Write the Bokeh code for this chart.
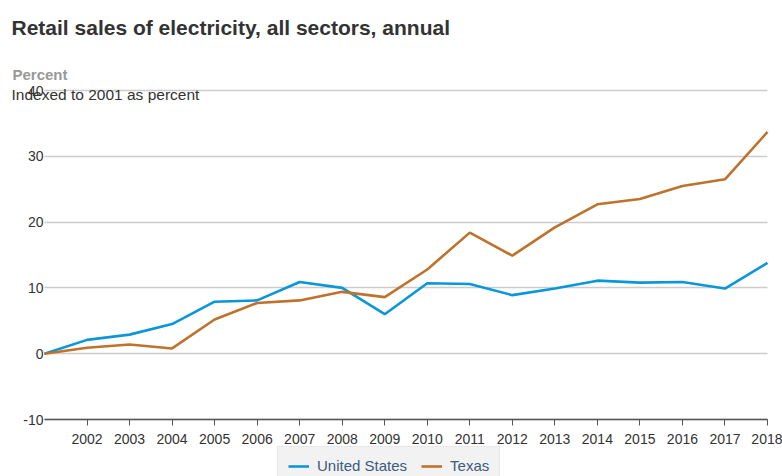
from bokeh.plotting import figure
from bokeh.models import (Range1d, FixedTicker, Label, Legend, LegendItem,
                          ColumnDataSource, PrintfTickFormatter)
from bokeh.embed import file_html
from bokeh.resources import INLINE

# ---- data ----
years = list(range(2001, 2019))
us_values = [0, 2.1, 2.9, 4.5, 7.9, 8.1, 10.9, 10.0, 6.0, 10.7, 10.6, 8.9, 9.9, 11.1, 10.8, 10.9, 9.9, 13.8]
texas_values = [0, 0.9, 1.4, 0.8, 5.2, 7.7, 8.1, 9.4, 8.6, 12.8, 18.4, 14.9, 19.2, 22.7, 23.5, 25.5, 26.5, 33.7]
x_ticks = list(range(2002, 2019))
y_ticks = [-10, 0, 10, 20, 30, 40]
series_names = ["United States", "Texas"]

title_text = "Retail sales of electricity, all sectors, annual"
unit_text = "Percent"
sub_text = "Indexed to 2001 as percent"

FONT = "Liberation Sans"
US_COLOR = "#0a97d9"
TX_COLOR = "#bf722c"

# ---- layout geometry (pixels) ----
W, H = 782, 476
PLOT_L, PLOT_R = 44, 767      # x of first / last year
PLOT_T, PLOT_B = 90, 419      # y of 40 / -10
x0, x1 = years[0], years[-1]
y0, y1 = y_ticks[0], y_ticks[-1]
sx = (PLOT_R - PLOT_L) / (x1 - x0)
sy = (PLOT_B - PLOT_T) / (y1 - y0)
x_range = Range1d(x0 - PLOT_L / sx, x1 + (W - PLOT_R) / sx)
y_range = Range1d(y0 - (H - PLOT_B) / sy, y1 + PLOT_T / sy)

src = ColumnDataSource(dict(year=years, us=us_values, tx=texas_values))

p = figure(width=W, height=H, output_backend="svg", toolbar_location=None,
           x_range=x_range, y_range=y_range,
           min_border_left=0, min_border_right=0, min_border_top=0,
           min_border_bottom=0)
p.outline_line_color = None
p.background_fill_color = "white"
p.border_fill_color = "white"

# grid
p.xgrid.grid_line_color = None
p.ygrid.ticker = FixedTicker(ticks=y_ticks)
p.ygrid.grid_line_color = "#cccccc"
p.ygrid.grid_line_width = 1.5
p.ygrid.bounds = (y0, y1)
p.ygrid.cross_bounds = (x0, x1)

r_us = p.line("year", "us", source=src, line_color=US_COLOR, line_width=2.6)
r_tx = p.line("year", "tx", source=src, line_color=TX_COLOR, line_width=2.6)

# axes (fixed inside the frame)
xa = p.xaxis[0]
xa.fixed_location = y0
xa.bounds = (x0, x1)
xa.ticker = FixedTicker(ticks=x_ticks)
xa.axis_line_color = "#555555"
xa.axis_line_width = 1.3
xa.major_tick_line_color = "#555555"
xa.major_tick_out = 6
xa.major_tick_in = 0
xa.minor_tick_line_color = None
xa.major_label_text_font = FONT
xa.major_label_text_font_size = "14px"
xa.major_label_text_color = "#333333"
xa.major_label_standoff = 8

ya = p.yaxis[0]
ya.fixed_location = x0
ya.ticker = FixedTicker(ticks=y_ticks)
ya.formatter = PrintfTickFormatter(format="%d")
ya.axis_line_color = None
ya.major_tick_line_color = None
ya.minor_tick_line_color = None
ya.major_tick_out = 0
ya.major_tick_in = 0
ya.major_label_text_font = FONT
ya.major_label_text_font_size = "14px"
ya.major_label_text_color = "#333333"
ya.major_label_standoff = 1

# titles (screen units from canvas bottom-left)
p.add_layout(Label(x=11, y=H - 27, x_units="screen", y_units="screen", text=title_text,
                   text_font=FONT, text_font_size="21px", text_font_style="bold",
                   text_color="#333333", text_baseline="alphabetic"))
p.add_layout(Label(x=12, y=H - 73.5, x_units="screen", y_units="screen", text=unit_text,
                   text_font=FONT, text_font_size="15px", text_font_style="bold",
                   text_color="#999999", text_baseline="alphabetic"))
p.add_layout(Label(x=11, y=H - 94, x_units="screen", y_units="screen", text=sub_text,
                   text_font=FONT, text_font_size="15.5px",
                   text_color="#333333", text_baseline="alphabetic"))

legend = Legend(items=[LegendItem(label=series_names[0], renderers=[r_us]),
                       LegendItem(label=series_names[1], renderers=[r_tx])],
                orientation="horizontal", location=(277, -9))
legend.background_fill_color = "#f2f2f2"
legend.background_fill_alpha = 1
legend.border_line_color = "#dddddd"
legend.label_text_font = FONT
legend.label_text_font_size = "15px"
legend.label_text_color = "#3d5a7f"
legend.glyph_width = 21
legend.glyph_height = 16
legend.label_height = 16
legend.label_standoff = 8
legend.spacing = 14
legend.padding = 10
legend.margin = 0
p.add_layout(legend, "center")

open("out.html", "w").write(file_html(p, INLINE))
